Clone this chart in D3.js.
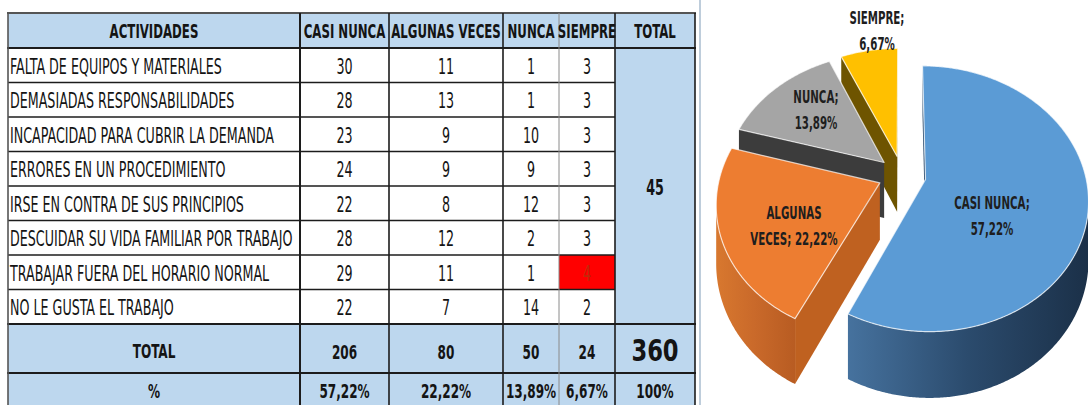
<!doctype html>
<html>
<head>
<meta charset="utf-8">
<script src="https://cdn.jsdelivr.net/npm/d3@7"></script>
<style>
  body { margin: 0; background: #fff; }
  text { font-family: "Liberation Sans Narrow", "DejaVu Sans Condensed", "Liberation Sans", sans-serif; fill: #141414; }
</style>
</head>
<body>
<svg width="1088" height="405"></svg>
<script>
// ---- data ----
var activities = [
  "FALTA DE EQUIPOS Y MATERIALES",
  "DEMASIADAS RESPONSABILIDADES",
  "INCAPACIDAD PARA CUBRIR LA DEMANDA",
  "ERRORES EN UN PROCEDIMIENTO",
  "IRSE EN CONTRA DE SUS PRINCIPIOS",
  "DESCUIDAR SU VIDA FAMILIAR POR TRABAJO",
  "TRABAJAR FUERA DEL HORARIO NORMAL",
  "NO LE GUSTA EL TRABAJO"
];
var columns = ["CASI NUNCA", "ALGUNAS VECES", "NUNCA", "SIEMPRE"];
var casiNunca    = [30, 28, 23, 24, 22, 28, 29, 22];
var algunasVeces = [11, 13, 9, 9, 8, 12, 11, 7];
var nunca        = [1, 1, 10, 9, 12, 2, 1, 14];
var siempre      = [3, 3, 3, 3, 3, 3, 4, 2];
var series = [casiNunca, algunasVeces, nunca, siempre];
var highlightCell = [6, 3];   // row, column of the red cell

var colTotals = series.map(function(s) { return d3.sum(s); });
var grandTotal = d3.sum(colTotals);
var rowTotals = activities.map(function(a, i) { return d3.sum(series, function(s) { return s[i]; }); });
function pct(v) { return (v * 100).toFixed(2).replace(".", ",") + "%"; }

var svg = d3.select("svg");

// text is drawn condensed, like the original spreadsheet font
var probe = svg.append("text").attr("font-size", 21).text(activities[0]);
var K = 212 / probe.node().getComputedTextLength();
probe.remove();

function label(g, x, y, str, size, weight, anchor, color) {
  return g.append("text")
    .attr("transform", "translate(" + x + "," + y + ") scale(" + K + ",1)")
    .attr("font-size", size)
    .attr("font-weight", weight || "normal")
    .attr("text-anchor", anchor || "middle")
    .attr("dy", "0.36em")
    .style("fill", color || null)
    .text(str);
}

// ---- table ----
var colEdges = [8, 300, 389, 503, 559, 615, 695];
var headTop = 13, totalTop = 324, pctTop = 373, bottom = 412;
var y = d3.scaleBand().domain(d3.range(activities.length)).range([48, totalTop]);
var lightBlue = "#bdd7ee";
var tg = svg.append("g");

tg.append("rect").attr("x", colEdges[0]).attr("y", headTop)
  .attr("width", colEdges[6] - colEdges[0]).attr("height", y.range()[0] - headTop).attr("fill", lightBlue);
tg.append("rect").attr("x", colEdges[5]).attr("y", y.range()[0])
  .attr("width", colEdges[6] - colEdges[5]).attr("height", totalTop - y.range()[0]).attr("fill", lightBlue);
tg.append("rect").attr("x", colEdges[0]).attr("y", totalTop)
  .attr("width", colEdges[6] - colEdges[0]).attr("height", bottom - totalTop).attr("fill", lightBlue);
tg.append("rect").attr("x", colEdges[highlightCell[1] + 1]).attr("y", y(highlightCell[0]))
  .attr("width", colEdges[highlightCell[1] + 2] - colEdges[highlightCell[1] + 1])
  .attr("height", y.bandwidth()).attr("fill", "#ff0000");

// grid
var lineCol = "#1c1c1c";
d3.range(1, activities.length).forEach(function(i) {
  tg.append("line").attr("x1", colEdges[0]).attr("x2", colEdges[5])
    .attr("y1", y(i)).attr("y2", y(i)).attr("stroke", lineCol).attr("stroke-width", 1.5);
});
[headTop, y.range()[0], totalTop, pctTop].forEach(function(yy, i) {
  tg.append("line").attr("x1", colEdges[0] - 1).attr("x2", colEdges[6] + 1)
    .attr("y1", yy).attr("y2", yy).attr("stroke", i === 0 ? "#555" : lineCol).attr("stroke-width", 2);
});
colEdges.forEach(function(xx, i) {
  var thin = (i === 4);
  tg.append("line").attr("x1", xx).attr("x2", xx).attr("y1", headTop).attr("y2", bottom)
    .attr("stroke", thin ? "#8a8a8a" : (i === 0 ? "#555" : lineCol))
    .attr("stroke-width", thin ? 1 : (i === 1 ? 2 : 1.6));
});

// header
var headLabels = ["ACTIVIDADES"].concat(columns).concat(["TOTAL"]);
headLabels.forEach(function(h, i) {
  label(tg, (colEdges[i] + colEdges[i + 1]) / 2, 31, h, 19.5, "bold");
});

// body
activities.forEach(function(a, r) {
  var cy = y(r) + y.bandwidth() / 2 + 1;
  label(tg, colEdges[0] + 2, cy, a, 21, "normal", "start");
  series.forEach(function(s, c) {
    var red = (r === highlightCell[0] && c === highlightCell[1]);
    label(tg, (colEdges[c + 1] + colEdges[c + 2]) / 2, cy, s[r], 21, "normal", "middle", red ? "#c02a08" : null);
  });
});
label(tg, (colEdges[5] + colEdges[6]) / 2, (y.range()[0] + totalTop) / 2 + 1, rowTotals[0], 21, "bold");

// totals and percentages
label(tg, (colEdges[0] + colEdges[1]) / 2, 351, "TOTAL", 20, "bold");
label(tg, (colEdges[0] + colEdges[1]) / 2, 391, "%", 20, "bold");
colTotals.forEach(function(t, c) {
  label(tg, (colEdges[c + 1] + colEdges[c + 2]) / 2, 352, t, 20, "bold");
  label(tg, (colEdges[c + 1] + colEdges[c + 2]) / 2, 391, pct(t / grandTotal), 20, "bold");
});
label(tg, (colEdges[5] + colEdges[6]) / 2, 350, grandTotal, 30, "bold").attr("transform",
  "translate(" + ((colEdges[5] + colEdges[6]) / 2) + ",350) scale(" + Math.min(1, K * 1.25) + ",1)");
label(tg, (colEdges[5] + colEdges[6]) / 2, 391, "100%", 20, "bold");

svg.append("line").attr("x1", 700).attr("x2", 700).attr("y1", 0).attr("y2", 405)
  .attr("stroke", "#a9bccf").attr("stroke-width", 1.5);

// ---- 3D exploded pie ----
var R = 160, H = 95, E = 24, CX = 902, CY = 175, SIN = 0.805, COS = Math.sqrt(1 - SIN * SIN), PERSP = 0.145;
function proj(X, Yh, Z) {
  var s = 1 / (1 - (Z / R) * PERSP);
  return [CX + X * s, CY - (Yh * COS - Z * SIN) * s];
}
var topColors  = ["#5b9bd5", "#ed7d31", "#a5a5a5", "#ffc000"];
var sideColors = [["#46729e", "#2b4b6d", "#1b3048"], ["#d8782f", "#c9692a", "#b85c22"], ["#555", "#444", "#333"], ["#7a5d00", "#6b5100", "#5c4500"]];
var faceColors = ["#2a4a6c", "#bf6120", "#3c3c3c", "#6e5400"];

var arcs = d3.pie().sort(null).value(function(d) { return d; })(colTotals);
arcs.forEach(function(a, i) {
  var mid = (a.startAngle + a.endAngle) / 2;
  a.i = i;
  a.ox = E * Math.sin(mid);
  a.oz = -E * Math.cos(mid);
});
function pt(a, ang, r, Yh) { return proj(a.ox + r * Math.sin(ang), Yh, a.oz - r * Math.cos(ang)); }
function area(p) {
  var s = 0;
  for (var k = 0; k < p.length; k++) { var q = p[(k + 1) % p.length]; s += p[k][0] * q[1] - q[0] * p[k][1]; }
  return s / 2;
}
function poly(p) { return "M" + p.map(function(d) { return d[0].toFixed(2) + "," + d[1].toFixed(2); }).join("L") + "Z"; }

var defs = svg.append("defs");
var pg = svg.append("g");
var order = arcs.slice().sort(function(p, q) { return p.oz - q.oz; });

order.forEach(function(a) {
  var g = pg.append("g");
  var vt = pt(a, 0, 0, 0), vb = pt(a, 0, 0, -H);
  // radial faces
  var f1 = [vt, pt(a, a.startAngle, R, 0), pt(a, a.startAngle, R, -H), vb];
  var f2 = [pt(a, a.endAngle, R, 0), vt, vb, pt(a, a.endAngle, R, -H)];
  [f1, f2].forEach(function(f) {
    if (area(f) < 0) g.append("path").attr("d", poly(f)).attr("fill", faceColors[a.i]);
  });
  // outer curved side, visible runs only
  var step = Math.PI / 360, angs = d3.range(a.startAngle, a.endAngle, step).concat([a.endAngle]);
  var runs = [], cur = null;
  for (var k = 0; k < angs.length - 1; k++) {
    var q = [pt(a, angs[k], R, 0), pt(a, angs[k + 1], R, 0), pt(a, angs[k + 1], R, -H), pt(a, angs[k], R, -H)];
    if (area(q) < 0) { if (!cur) { cur = [angs[k]]; runs.push(cur); } cur[1] = angs[k + 1]; }
    else cur = null;
  }
  runs.forEach(function(run, j) {
    var rs = d3.range(run[0], run[1], step).concat([run[1]]);
    var p = rs.map(function(t) { return pt(a, t, R, 0); })
      .concat(rs.slice().reverse().map(function(t) { return pt(a, t, R, -H); }));
    var xs = d3.extent(p, function(d) { return d[0]; });
    var id = "side" + a.i + "_" + j;
    var gr = defs.append("linearGradient").attr("id", id).attr("gradientUnits", "userSpaceOnUse")
      .attr("x1", xs[0]).attr("x2", xs[1]).attr("y1", 0).attr("y2", 0);
    sideColors[a.i].forEach(function(c, n) { gr.append("stop").attr("offset", n / 2).attr("stop-color", c); });
    g.append("path").attr("d", poly(p)).attr("fill", "url(#" + id + ")");
  });
  // top
  var top = [vt].concat(angs.map(function(t) { return pt(a, t, R, 0); }));
  g.append("path").attr("d", poly(top)).attr("fill", topColors[a.i])
    .attr("stroke", "#ffffff").attr("stroke-opacity", 0.7).attr("stroke-width", 1.2).attr("stroke-linejoin", "round");
});

// data labels
var labelBreak = [2, 1, 1, 1];
var labelPos = [[992, 203], [794, 213], [816, 97], [877, 18]];
arcs.forEach(function(a, i) {
  var words = (columns[i] + "; " + pct(a.value / grandTotal)).split(" ");
  var lines = [words.slice(0, labelBreak[i]).join(" "), words.slice(labelBreak[i]).join(" ")];
  lines.forEach(function(l, n) {
    label(svg, labelPos[i][0], labelPos[i][1] + n * 26, l, 17, "bold", "middle", "#1e1e1e");
  });
});
</script>
</body>
</html>
